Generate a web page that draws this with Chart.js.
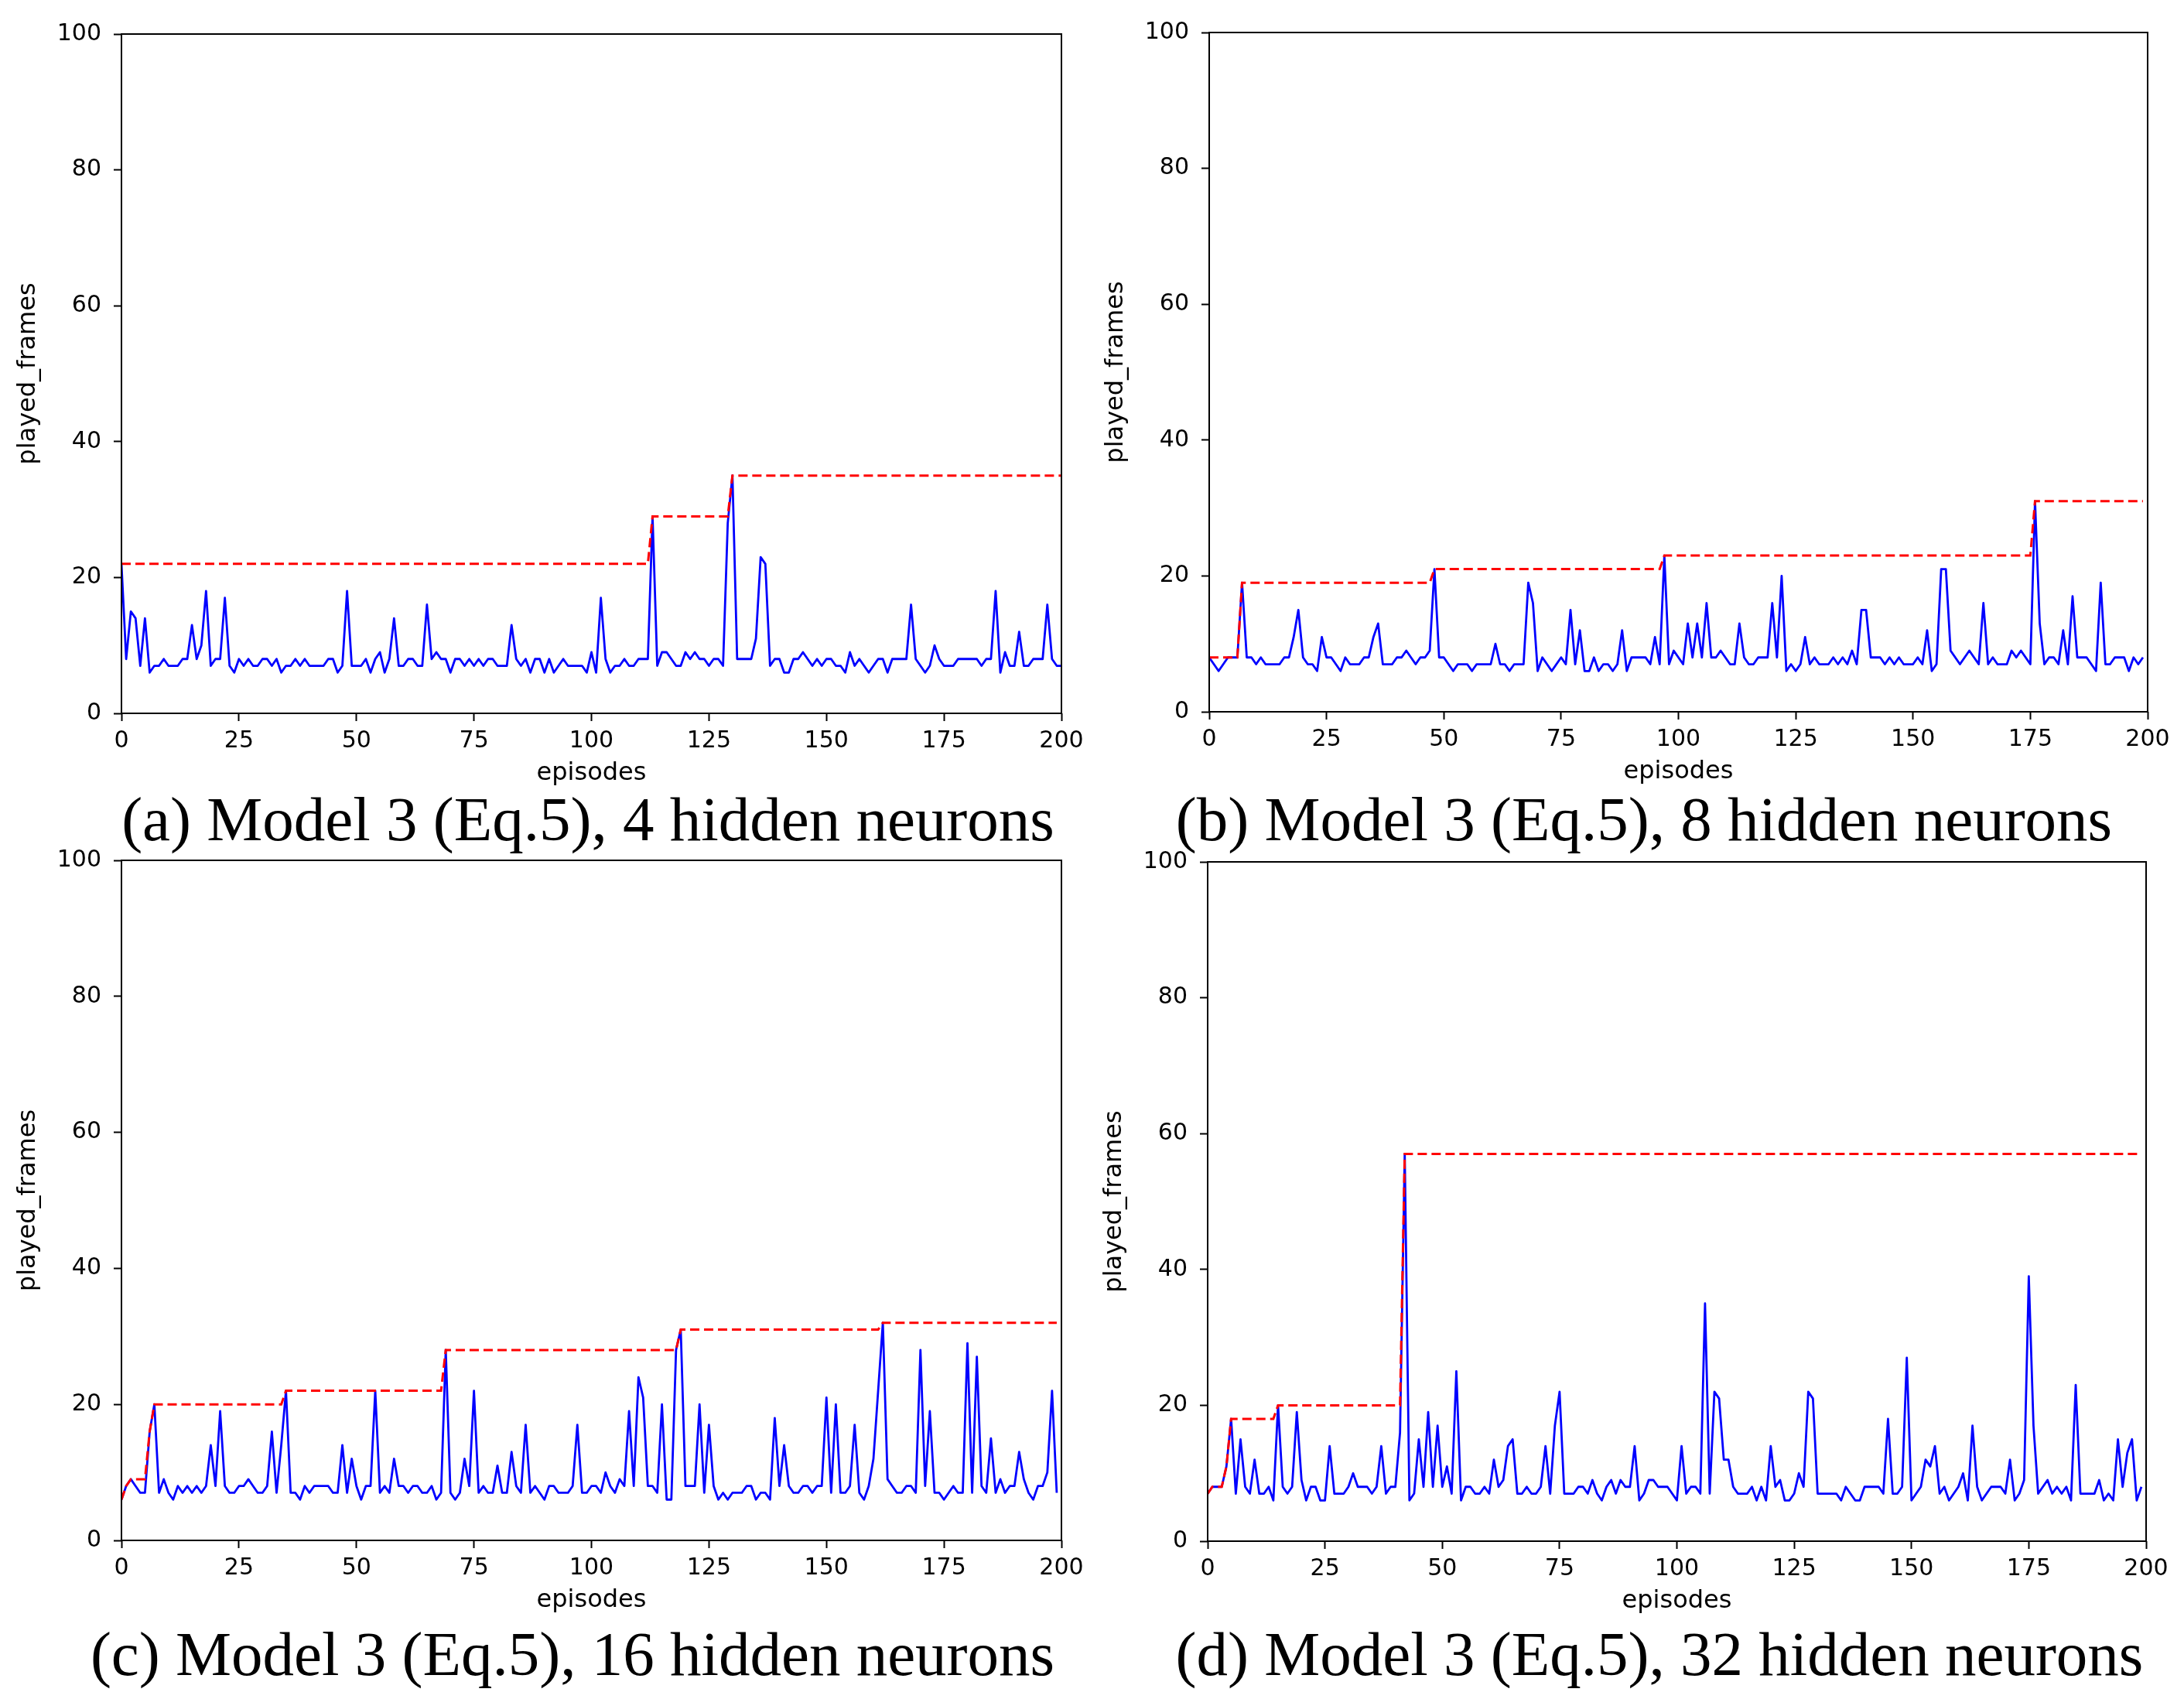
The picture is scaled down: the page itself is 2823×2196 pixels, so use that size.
<!DOCTYPE html>
<html>
<head>
<meta charset="utf-8">
<script src="https://cdn.jsdelivr.net/npm/chart.js@4.4.1/dist/chart.umd.min.js"></script>
<style>
  html, body { margin: 0; padding: 0; background: #fff; overflow: hidden; }
  #page { position: relative; width: 2823px; height: 2196px; background: #fff; }
  canvas { position: absolute; }
  .caption {
    position: absolute;
    font-family: "Liberation Serif", "Times New Roman", serif;
    font-size: 81px;
    line-height: 81px;
    white-space: nowrap;
    color: #000;
    transform: translateX(-50%);
  }
</style>
</head>
<body>
<div id="page">
  <canvas id="chartA"></canvas>
  <canvas id="chartB"></canvas>
  <canvas id="chartC"></canvas>
  <canvas id="chartD"></canvas>
  <div class="caption" id="capA"></div>
  <div class="caption" id="capB"></div>
  <div class="caption" id="capC"></div>
  <div class="caption" id="capD"></div>
</div>
<script>
// played frames per episode (blue)
const framesA = [22, 8, 15, 14, 7, 14, 6, 7, 7, 8,
  7, 7, 7, 8, 8, 13, 8, 10, 18, 7,
  8, 8, 17, 7, 6, 8, 7, 8, 7, 7,
  8, 8, 7, 8, 6, 7, 7, 8, 7, 8,
  7, 7, 7, 7, 8, 8, 6, 7, 18, 7,
  7, 7, 8, 6, 8, 9, 6, 8, 14, 7,
  7, 8, 8, 7, 7, 16, 8, 9, 8, 8,
  6, 8, 8, 7, 8, 7, 8, 7, 8, 8,
  7, 7, 7, 13, 8, 7, 8, 6, 8, 8,
  6, 8, 6, 7, 8, 7, 7, 7, 7, 6,
  9, 6, 17, 8, 6, 7, 7, 8, 7, 7,
  8, 8, 8, 29, 7, 9, 9, 8, 7, 7,
  9, 8, 9, 8, 8, 7, 8, 8, 7, 28,
  35, 8, 8, 8, 8, 11, 23, 22, 7, 8,
  8, 6, 6, 8, 8, 9, 8, 7, 8, 7,
  8, 8, 7, 7, 6, 9, 7, 8, 7, 6,
  7, 8, 8, 6, 8, 8, 8, 8, 16, 8,
  7, 6, 7, 10, 8, 7, 7, 7, 8, 8,
  8, 8, 8, 7, 8, 8, 18, 6, 9, 7,
  7, 12, 7, 7, 8, 8, 8, 16, 8, 7,
  7];

const framesB = [8, 7, 6, 7, 8, 8, 8, 19, 8, 8,
  7, 8, 7, 7, 7, 7, 8, 8, 11, 15,
  8, 7, 7, 6, 11, 8, 8, 7, 6, 8,
  7, 7, 7, 8, 8, 11, 13, 7, 7, 7,
  8, 8, 9, 8, 7, 8, 8, 9, 21, 8,
  8, 7, 6, 7, 7, 7, 6, 7, 7, 7,
  7, 10, 7, 7, 6, 7, 7, 7, 19, 16,
  6, 8, 7, 6, 7, 8, 7, 15, 7, 12,
  6, 6, 8, 6, 7, 7, 6, 7, 12, 6,
  8, 8, 8, 8, 7, 11, 7, 23, 7, 9,
  8, 7, 13, 8, 13, 8, 16, 8, 8, 9,
  8, 7, 7, 13, 8, 7, 7, 8, 8, 8,
  16, 8, 20, 6, 7, 6, 7, 11, 7, 8,
  7, 7, 7, 8, 7, 8, 7, 9, 7, 15,
  15, 8, 8, 8, 7, 8, 7, 8, 7, 7,
  7, 8, 7, 12, 6, 7, 21, 21, 9, 8,
  7, 8, 9, 8, 7, 16, 7, 8, 7, 7,
  7, 9, 8, 9, 8, 7, 31, 13, 7, 8,
  8, 7, 12, 7, 17, 8, 8, 8, 7, 6,
  19, 7, 7, 8, 8, 8, 6, 8, 7, 8];

const framesC = [6, 8, 9, 8, 7, 7, 16, 20, 7, 9,
  7, 6, 8, 7, 8, 7, 8, 7, 8, 14,
  8, 19, 8, 7, 7, 8, 8, 9, 8, 7,
  7, 8, 16, 7, 14, 22, 7, 7, 6, 8,
  7, 8, 8, 8, 8, 7, 7, 14, 7, 12,
  8, 6, 8, 8, 22, 7, 8, 7, 12, 8,
  8, 7, 8, 8, 7, 7, 8, 6, 7, 28,
  7, 6, 7, 12, 8, 22, 7, 8, 7, 7,
  11, 7, 7, 13, 8, 7, 17, 7, 8, 7,
  6, 8, 8, 7, 7, 7, 8, 17, 7, 7,
  8, 8, 7, 10, 8, 7, 9, 8, 19, 8,
  24, 21, 8, 8, 7, 20, 6, 6, 28, 31,
  8, 8, 8, 20, 7, 17, 8, 6, 7, 6,
  7, 7, 7, 8, 8, 6, 7, 7, 6, 18,
  8, 14, 8, 7, 7, 8, 8, 7, 8, 8,
  21, 7, 20, 7, 7, 8, 17, 7, 6, 8,
  12, 22, 32, 9, 8, 7, 7, 8, 8, 7,
  28, 8, 19, 7, 7, 6, 7, 8, 7, 7,
  29, 7, 27, 8, 7, 15, 7, 9, 7, 8,
  8, 13, 9, 7, 6, 8, 8, 10, 22, 7];

const framesD = [7, 8, 8, 8, 11, 18, 7, 15, 8, 7,
  12, 7, 7, 8, 6, 20, 8, 7, 8, 19,
  9, 6, 8, 8, 6, 6, 14, 7, 7, 7,
  8, 10, 8, 8, 8, 7, 8, 14, 7, 8,
  8, 16, 57, 6, 7, 15, 8, 19, 8, 17,
  8, 11, 7, 25, 6, 8, 8, 7, 7, 8,
  7, 12, 8, 9, 14, 15, 7, 7, 8, 7,
  7, 8, 14, 7, 17, 22, 7, 7, 7, 8,
  8, 7, 9, 7, 6, 8, 9, 7, 9, 8,
  8, 14, 6, 7, 9, 9, 8, 8, 8, 7,
  6, 14, 7, 8, 8, 7, 35, 7, 22, 21,
  12, 12, 8, 7, 7, 7, 8, 6, 8, 6,
  14, 8, 9, 6, 6, 7, 10, 8, 22, 21,
  7, 7, 7, 7, 7, 6, 8, 7, 6, 6,
  8, 8, 8, 8, 7, 18, 7, 7, 8, 27,
  6, 7, 8, 12, 11, 14, 7, 8, 6, 7,
  8, 10, 6, 17, 8, 6, 7, 8, 8, 8,
  7, 12, 6, 7, 9, 39, 17, 7, 8, 9,
  7, 8, 7, 8, 6, 23, 7, 7, 7, 7,
  9, 6, 7, 6, 15, 8, 13, 15, 6, 8];

// best-so-far (red dashed): [episode, frames] corners of the staircase
const bestA = [[0, 22], [112, 22], [113, 29], [129, 29], [130, 35], [200, 35]];
const bestB = [[0, 8], [6, 8], [7, 19], [47, 19], [48, 21], [96, 21], [97, 23], [175, 23], [176, 31], [199, 31]];
const bestC = [[0, 6], [1, 8], [2, 9], [5, 9], [6, 16], [7, 20], [34, 20], [35, 22], [68, 22], [69, 28],
  [118, 28], [119, 31], [161, 31], [162, 32], [199, 32]];
const bestD = [[0, 7], [1, 8], [3, 8], [4, 11], [5, 18], [14, 18], [15, 20], [41, 20], [42, 57], [199, 57]];

const xTickValues = [0, 25, 50, 75, 100, 125, 150, 175, 200];
const yTickValues = [0, 20, 40, 60, 80, 100];

const captions = [
  "(a) Model 3 (Eq.5), 4 hidden neurons",
  "(b) Model 3 (Eq.5), 8 hidden neurons",
  "(c) Model 3 (Eq.5), 16 hidden neurons",
  "(d) Model 3 (Eq.5), 32 hidden neurons"
];

// plot-area boxes on the page (left, top, right, bottom) and caption anchors
const Y_AXIS_W = 157, X_AXIS_H = 100, PAD_TOP = 30, PAD_RIGHT = 40;
const panels = [
  { canvas: "chartA", cap: "capA", frames: framesA, best: bestA, box: [157, 40, 1372, 922], capX: 760, capTop: 1019 },
  { canvas: "chartB", cap: "capB", frames: framesB, best: bestB, box: [1563, 38, 2776, 920], capX: 2125, capTop: 1019 },
  { canvas: "chartC", cap: "capC", frames: framesC, best: bestC, box: [157, 1108, 1372, 1991], capX: 740, capTop: 2098 },
  { canvas: "chartD", cap: "capD", frames: framesD, best: bestD, box: [1561, 1110, 2774, 1992], capX: 2145, capTop: 2098 }
];

// matplotlib-like frame around the axes
const frameBox = {
  id: "frameBox",
  afterDatasetsDraw(chart) {
    const { ctx, chartArea: a } = chart;
    ctx.save();
    ctx.strokeStyle = "#000";
    ctx.lineWidth = 2;
    ctx.strokeRect(a.left, a.top, a.right - a.left, a.bottom - a.top);
    ctx.restore();
  }
};

const tickFont = { family: "DejaVu Sans", size: 30 };
const titleFont = { family: "DejaVu Sans", size: 32 };

panels.forEach((p, idx) => {
  const [l, t, r, b] = p.box;
  const canvas = document.getElementById(p.canvas);
  canvas.width = Y_AXIS_W + (r - l) + PAD_RIGHT;
  canvas.height = PAD_TOP + (b - t) + X_AXIS_H;
  canvas.style.left = (l - Y_AXIS_W) + "px";
  canvas.style.top = (t - PAD_TOP) + "px";

  const cap = document.getElementById(p.cap);
  cap.textContent = captions[idx];
  cap.style.left = p.capX + "px";
  cap.style.top = p.capTop + "px";

  new Chart(canvas, {
    type: "line",
    data: {
      datasets: [
        {
          label: "best",
          data: p.best.map(([x, y]) => ({ x: x, y: y })),
          borderColor: "rgb(255, 0, 0)",
          borderWidth: 3,
          borderDash: [12, 6],
          pointRadius: 0,
          fill: false,
          tension: 0
        },
        {
          label: "played_frames",
          data: p.frames.map((v, i) => ({ x: i, y: v })),
          borderColor: "rgb(0, 0, 255)",
          borderWidth: 2.8,
          borderJoinStyle: "round",
          pointRadius: 0,
          fill: false,
          tension: 0
        }
      ]
    },
    options: {
      responsive: false,
      animation: false,
      devicePixelRatio: 1,
      layout: { padding: { top: PAD_TOP, right: PAD_RIGHT, left: 0, bottom: 0 } },
      plugins: { legend: { display: false }, tooltip: { enabled: false } },
      scales: {
        x: {
          type: "linear",
          min: 0,
          max: 200,
          afterBuildTicks: (scale) => { scale.ticks = xTickValues.map(v => ({ value: v })); },
          afterFit: (scale) => { scale.height = X_AXIS_H; },
          border: { display: false },
          grid: { display: true, drawOnChartArea: false, drawTicks: true, tickLength: 10, tickWidth: 2, tickColor: "#000" },
          ticks: { color: "#000", font: tickFont, padding: 8, maxRotation: 0, autoSkip: false },
          title: { display: true, text: "episodes", color: "#000", font: titleFont, padding: { top: 0, bottom: 3 } }
        },
        y: {
          type: "linear",
          min: 0,
          max: 100,
          afterBuildTicks: (scale) => { scale.ticks = yTickValues.map(v => ({ value: v })); },
          afterFit: (scale) => { scale.width = Y_AXIS_W; },
          border: { display: false },
          grid: { display: true, drawOnChartArea: false, drawTicks: true, tickLength: 10, tickWidth: 2, tickColor: "#000" },
          ticks: { color: "#000", font: tickFont, padding: 16, autoSkip: false },
          title: { display: true, text: "played_frames", color: "#000", font: titleFont, padding: { top: 17, bottom: 0 } }
        }
      }
    },
    plugins: [frameBox]
  });
});
</script>
</body>
</html>
